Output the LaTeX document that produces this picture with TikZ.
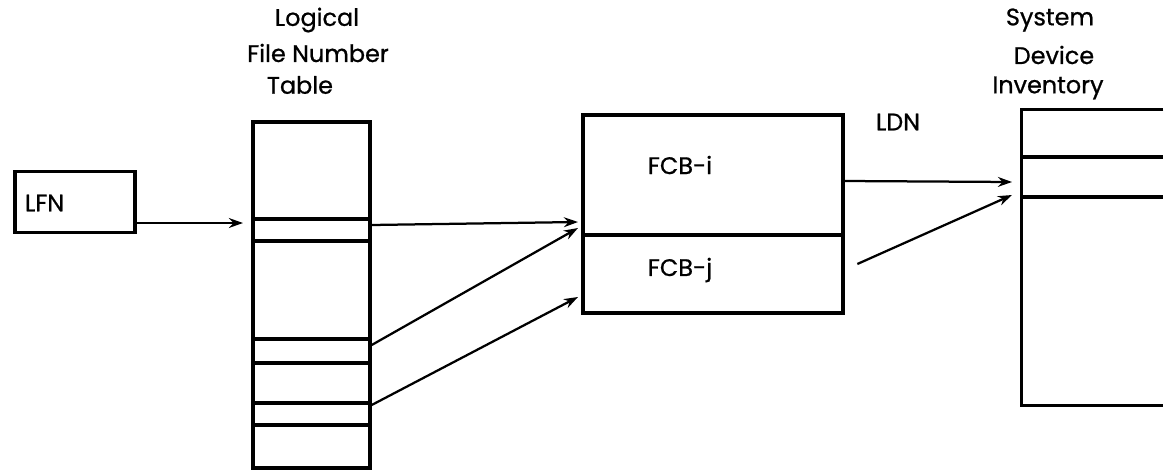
\documentclass[tikz,border=0pt]{standalone}
\usepackage{fontspec}
\setmainfont{Poppins}[FakeBold=0.8]
\usetikzlibrary{arrows.meta}
\begin{document}
	\begin{tikzpicture}[x=0.025cm, y=-0.025cm, >={Stealth[length=10pt,width=7pt,open]}, font=\fontsize{17}{20}\selectfont,
		box/.style={draw, line width=2.4pt, inner sep=0pt},
		slot/.style={line width=2.4pt},
		lnk/.style={->, line width=1.6pt}]
		\useasboundingbox (0,0) rectangle (1167,474);
		% boxes
		\node[box, minimum width=3cm, minimum height=1.525cm] (LFN) at (75,202) {};
		\node[anchor=west] (LFNtxt) at (20,203) {LFN};
		\node[box, minimum width=2.925cm, minimum height=8.65cm] (LFNT) at (311.5,295) {};
		\node[box, minimum width=6.5cm, minimum height=4.95cm] (FCB) at (713,214) {};
		\node[inner sep=0pt, minimum width=3.525cm, minimum height=7.375cm] (SDI) at (1092.5,257.5) {};
		\draw[slot] (SDI.north east) -- (SDI.north west) -- (SDI.south west) -- (SDI.south east);
		% titles
		\node (T1) at (317,20) {Logical};
		\node (T2) at (318,53) {File Number};
		\node (T3) at (300,85) {Table};
		\node (S1) at (1050,20) {System};
		\node (S2) at (1054,55) {Device};
		\node (S3) at (1048,88) {Inventory};
		\node (Fi) at (680,165) {FCB-i};
		\node (Fj) at (680,270) {FCB-j};
		\node (LDN) at (898,122) {LDN};
		% slots
		\foreach \y in {219,241,339,363,403,425}
			\draw[slot] (LFNT.west |- 0,\y) -- (LFNT.east |- 0,\y);
		\draw[slot] (FCB.west |- 0,235) -- (FCB.east |- 0,235);
		\foreach \y in {157,197}
			\draw[slot] (SDI.west |- 0,\y) -- (SDI.east |- 0,\y);
		% links
		\coordinate (e1) at (243,223);
		\coordinate (f1) at (578,222);
		\coordinate (f2) at (578,228);
		\coordinate (f3) at (578,297);
		\coordinate (s1) at (1012,182);
		\coordinate (s2) at (1012,195);
		\draw[lnk] (LFN.east |- 0,223) -- (e1);
		\draw[lnk] (LFNT.east |- 0,225) -- (f1);
		\draw[lnk] (LFNT.east |- 0,345) -- (f2);
		\draw[lnk] (LFNT.east |- 0,405) -- (f3);
		\draw[lnk] (FCB.east |- 0,181) -- (s1);
		\draw[lnk] ([xshift=9]FCB.east |- 0,264) -- (s2);
	\end{tikzpicture}
\end{document}
